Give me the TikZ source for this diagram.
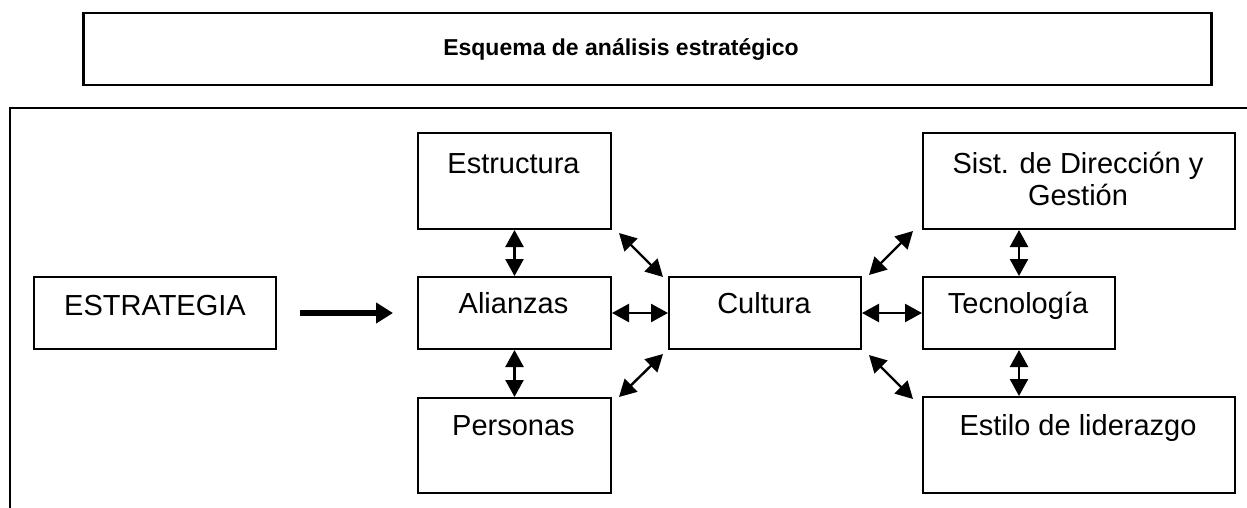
\documentclass[tikz,border=0pt]{standalone}
\usepackage{fontspec}
\setmainfont{Liberation Sans}
\usetikzlibrary{arrows.meta,calc}
\begin{document}
\begin{tikzpicture}[x=1pt,y=-1pt,
  box/.style={draw=black, line width=2pt, rectangle, inner sep=0pt, anchor=north west},
  lbl/.style={font=\fontsize{29}{32}\selectfont, inner sep=0pt, anchor=base, align=center},
  dbl/.style={line width=2.4pt, {Triangle[length=17pt,width=18pt]}-{Triangle[length=17pt,width=18pt]}},
  bigarrow/.style={line width=6pt, -{Triangle[length=17pt,width=20pt]}},
  frame/.style={line width=2.5pt, line cap=rect}]
\useasboundingbox (0,0) rectangle (1247,508);
% title
\node[box, line width=2.5pt, minimum width=1128pt, minimum height=72pt] (title) at (82,12) {};
\node[font=\fontsize{23}{26}\selectfont\bfseries, inner sep=0pt, anchor=base] (titletext) at (621,56) {Esquema de análisis estratégico};
% outer frame
\coordinate (fA) at (1247,108);
\coordinate (fB) at (10,108);
\coordinate (fC) at (10,508);
\draw[frame] (fA) -- (fB) -- (fC);
% boxes
\node[box, minimum width=242pt, minimum height=72pt] (strat) at (33,276) {};
\node[lbl] (stratt) at (155,315) {ESTRATEGIA};
\node[box, minimum width=193pt, minimum height=96pt] (estr) at (417,132) {};
\node[lbl] (estrt) at (513.5,173) {Estructura};
\node[box, minimum width=193pt, minimum height=72pt] (alli) at (417,276) {};
\node[lbl] (allit) at (513.5,313) {Alianzas};
\node[box, minimum width=193pt, minimum height=95pt] (pers) at (417,397) {};
\node[lbl] (perst) at (513.5,435) {Personas};
\node[box, minimum width=192pt, minimum height=72pt] (cult) at (668,276) {};
\node[lbl] (cultt) at (764,313) {Cultura};
\node[box, minimum width=312pt, minimum height=96pt] (sist) at (922,132) {};
\node[lbl] (sistt) at (1078,173) {Sist. de Dirección y};
\node[lbl] (sistt2) at (1078,205) {Gestión};
\node[box, minimum width=192pt, minimum height=72pt] (tecn) at (922,276) {};
\node[lbl] (tecnt) at (1018,313) {Tecnología};
\node[box, minimum width=312pt, minimum height=96pt] (esti) at (922,396) {};
\node[lbl] (estit) at (1078,435) {Estilo de liderazgo};
% connectors
\draw[bigarrow, shorten <=23pt, shorten >=24pt] (strat.east) -- (strat.east -| alli.west);
\draw[dbl] (estr.south) -- (alli.north);
\draw[dbl] (alli.south) -- (pers.north);
\draw[dbl] (alli.east) -- (cult.west);
\draw[dbl] (cult.east) -- (tecn.west);
\draw[dbl] ($(estr.south east)+(7,3)$) -- ($(cult.north west)+(-5,1)$);
\draw[dbl] ($(pers.north east)+(7,0)$) -- ($(cult.south west)+(-5,4)$);
\draw[dbl] ($(cult.north east)+(7,-1)$) -- ($(sist.south west)+(-9,1)$);
\draw[dbl] ($(cult.south east)+(7,5)$) -- ($(esti.north west)+(-9,3)$);
\draw[dbl] (tecn.north |- sist.south) -- (tecn.north);
\draw[dbl] (tecn.south) -- (tecn.south |- esti.north);
\end{tikzpicture}
\end{document}
